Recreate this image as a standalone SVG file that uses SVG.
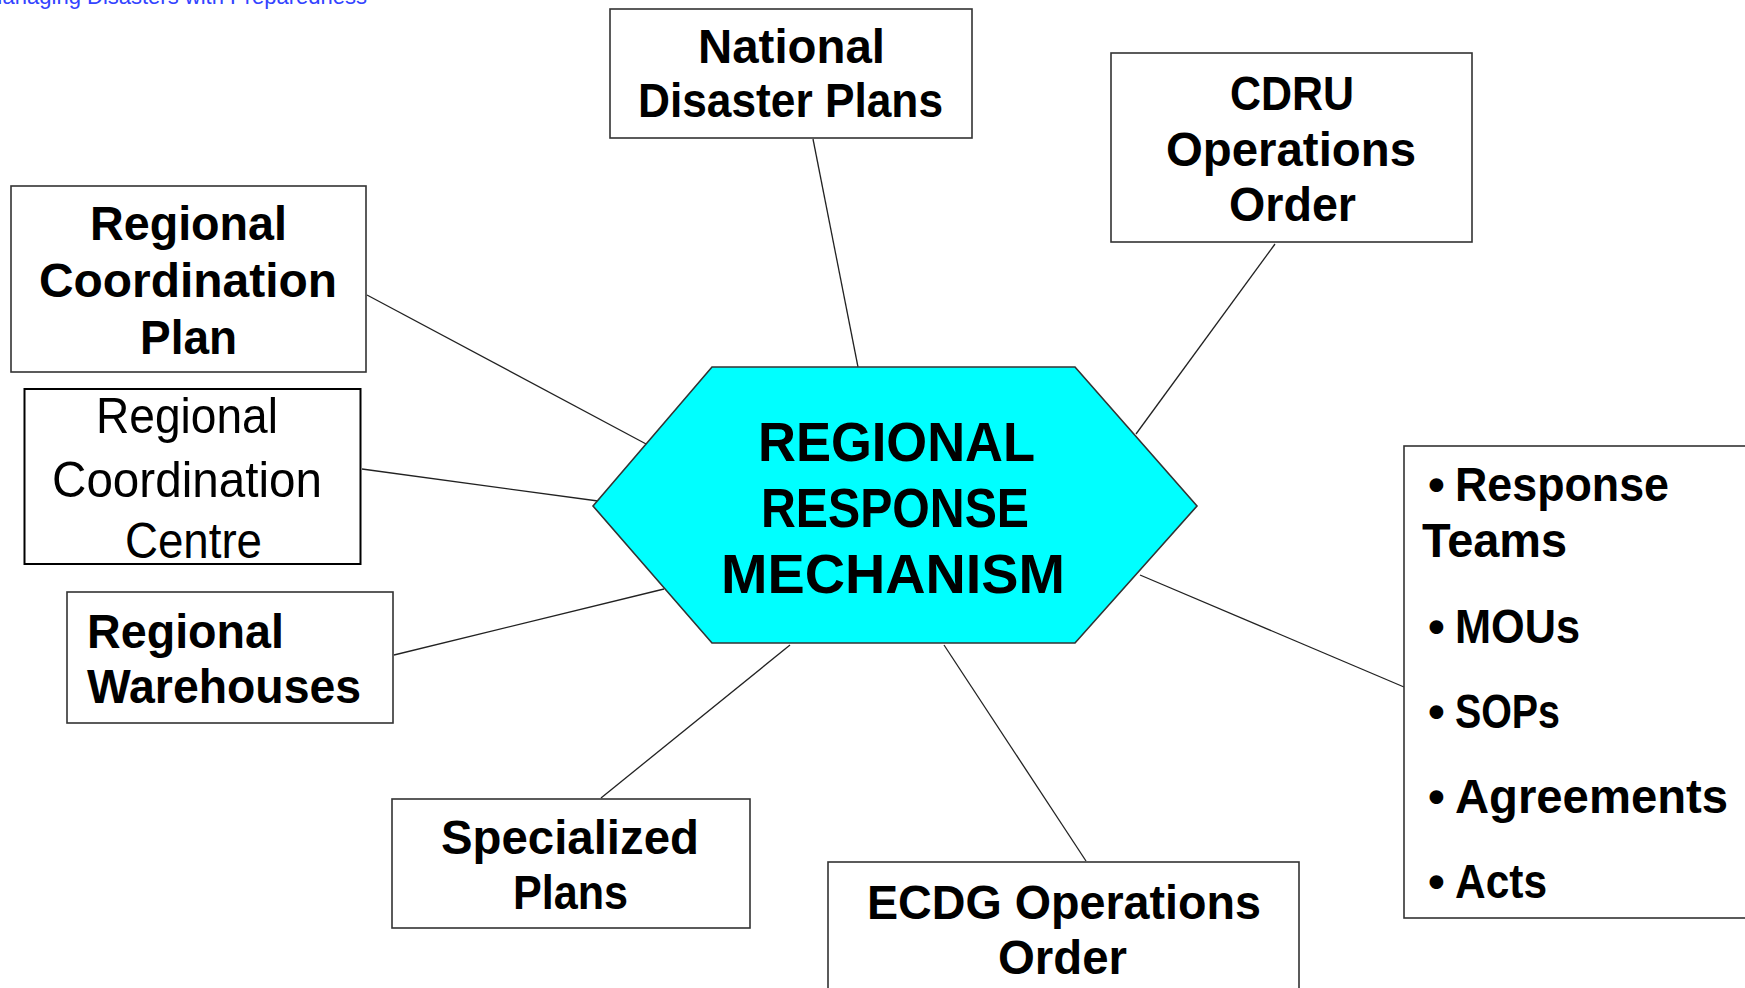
<svg xmlns="http://www.w3.org/2000/svg" width="1745" height="988" viewBox="0 0 1745 988">
<style>
.box{fill:#fff;stroke:#333;stroke-width:1.6}
.cg{font-family:"Liberation Sans",Arial,sans-serif;font-weight:bold;font-size:48px;fill:#000}
.ar{font-family:"Liberation Sans",Arial,sans-serif;font-size:50px;fill:#000}
.hx{font-family:"Liberation Sans",Arial,sans-serif;font-weight:bold;font-size:56px;fill:#000}
.conn line{stroke:#222;stroke-width:1.3}
</style>
<rect width="1745" height="988" fill="#fff"/>
<text x="367" y="4" text-anchor="end" font-family="Liberation Sans,Arial,sans-serif" font-size="22" fill="#3344ff">Managing Disasters with Preparedness</text>
<g id="connectors" class="conn">
<line x1="813" y1="139" x2="858" y2="367"/>
<line x1="1275" y1="244" x2="1136" y2="434"/>
<line x1="367" y1="295" x2="648" y2="445"/>
<line x1="362" y1="469" x2="598" y2="501"/>
<line x1="394" y1="655" x2="664" y2="589"/>
<line x1="601" y1="798" x2="790" y2="645"/>
<line x1="1086" y1="861" x2="944" y2="645"/>
<line x1="1404" y1="687" x2="1140" y2="575"/>
</g>
<g id="national">
<rect class="box" x="610" y="9" width="362" height="129"/>
<text class="cg" x="698" y="63" textLength="187" lengthAdjust="spacingAndGlyphs">National</text>
<text class="cg" x="638" y="117" textLength="305" lengthAdjust="spacingAndGlyphs">Disaster Plans</text>
</g>
<g id="cdru">
<rect class="box" x="1111" y="53" width="361" height="189"/>
<text class="cg" x="1230" y="110" textLength="124" lengthAdjust="spacingAndGlyphs">CDRU</text>
<text class="cg" x="1166" y="166" textLength="250" lengthAdjust="spacingAndGlyphs">Operations</text>
<text class="cg" x="1229" y="221" textLength="127" lengthAdjust="spacingAndGlyphs">Order</text>
</g>
<g id="rcp">
<rect class="box" x="11" y="186" width="355" height="186"/>
<text class="cg" x="90" y="240" textLength="197" lengthAdjust="spacingAndGlyphs">Regional</text>
<text class="cg" x="39" y="297" textLength="298" lengthAdjust="spacingAndGlyphs">Coordination</text>
<text class="cg" x="140" y="354" textLength="97" lengthAdjust="spacingAndGlyphs">Plan</text>
</g>
<g id="rcc">
<rect x="24.5" y="389" width="336" height="175" fill="#fff" stroke="#000" stroke-width="2"/>
<text class="ar" x="96" y="433" textLength="182" lengthAdjust="spacingAndGlyphs">Regional</text>
<text class="ar" x="52" y="497" textLength="270" lengthAdjust="spacingAndGlyphs">Coordination</text>
<text class="ar" x="125" y="558" textLength="137" lengthAdjust="spacingAndGlyphs">Centre</text>
</g>
<g id="warehouses">
<rect class="box" x="67" y="592" width="326" height="131"/>
<text class="cg" x="87" y="648" textLength="197" lengthAdjust="spacingAndGlyphs">Regional</text>
<text class="cg" x="87" y="703" textLength="274" lengthAdjust="spacingAndGlyphs">Warehouses</text>
</g>
<g id="specialized">
<rect class="box" x="392" y="799" width="358" height="129"/>
<text class="cg" x="441" y="854" textLength="258" lengthAdjust="spacingAndGlyphs">Specialized</text>
<text class="cg" x="513" y="909" textLength="115" lengthAdjust="spacingAndGlyphs">Plans</text>
</g>
<g id="ecdg">
<rect class="box" x="828" y="862" width="471" height="140"/>
<text class="cg" x="867" y="919" textLength="394" lengthAdjust="spacingAndGlyphs">ECDG Operations</text>
<text class="cg" x="998" y="974" textLength="129" lengthAdjust="spacingAndGlyphs">Order</text>
</g>
<g id="instruments">
<rect class="box" x="1404" y="446" width="360" height="472"/>
<text class="cg" x="1428" y="501">•</text>
<text class="cg" x="1455" y="501" textLength="214" lengthAdjust="spacingAndGlyphs">Response</text>
<text class="cg" x="1422" y="557" textLength="145" lengthAdjust="spacingAndGlyphs">Teams</text>
<text class="cg" x="1428" y="643">•</text>
<text class="cg" x="1455" y="643" textLength="125" lengthAdjust="spacingAndGlyphs">MOUs</text>
<text class="cg" x="1428" y="728">•</text>
<text class="cg" x="1455" y="728" textLength="105" lengthAdjust="spacingAndGlyphs">SOPs</text>
<text class="cg" x="1428" y="813">•</text>
<text class="cg" x="1455" y="813" textLength="273" lengthAdjust="spacingAndGlyphs">Agreements</text>
<text class="cg" x="1428" y="898">•</text>
<text class="cg" x="1455" y="898" textLength="92" lengthAdjust="spacingAndGlyphs">Acts</text>
</g>
<g id="hub">
<polygon points="593,506 712,367 1075,367 1197,506 1075,643 712,643" fill="#00ffff" stroke="#333" stroke-width="1.6"/>
<text class="hx" x="758" y="461" textLength="277" lengthAdjust="spacingAndGlyphs">REGIONAL</text>
<text class="hx" x="761" y="527" textLength="268" lengthAdjust="spacingAndGlyphs">RESPONSE</text>
<text class="hx" x="721" y="593" textLength="344" lengthAdjust="spacingAndGlyphs">MECHANISM</text>
</g>
</svg>
